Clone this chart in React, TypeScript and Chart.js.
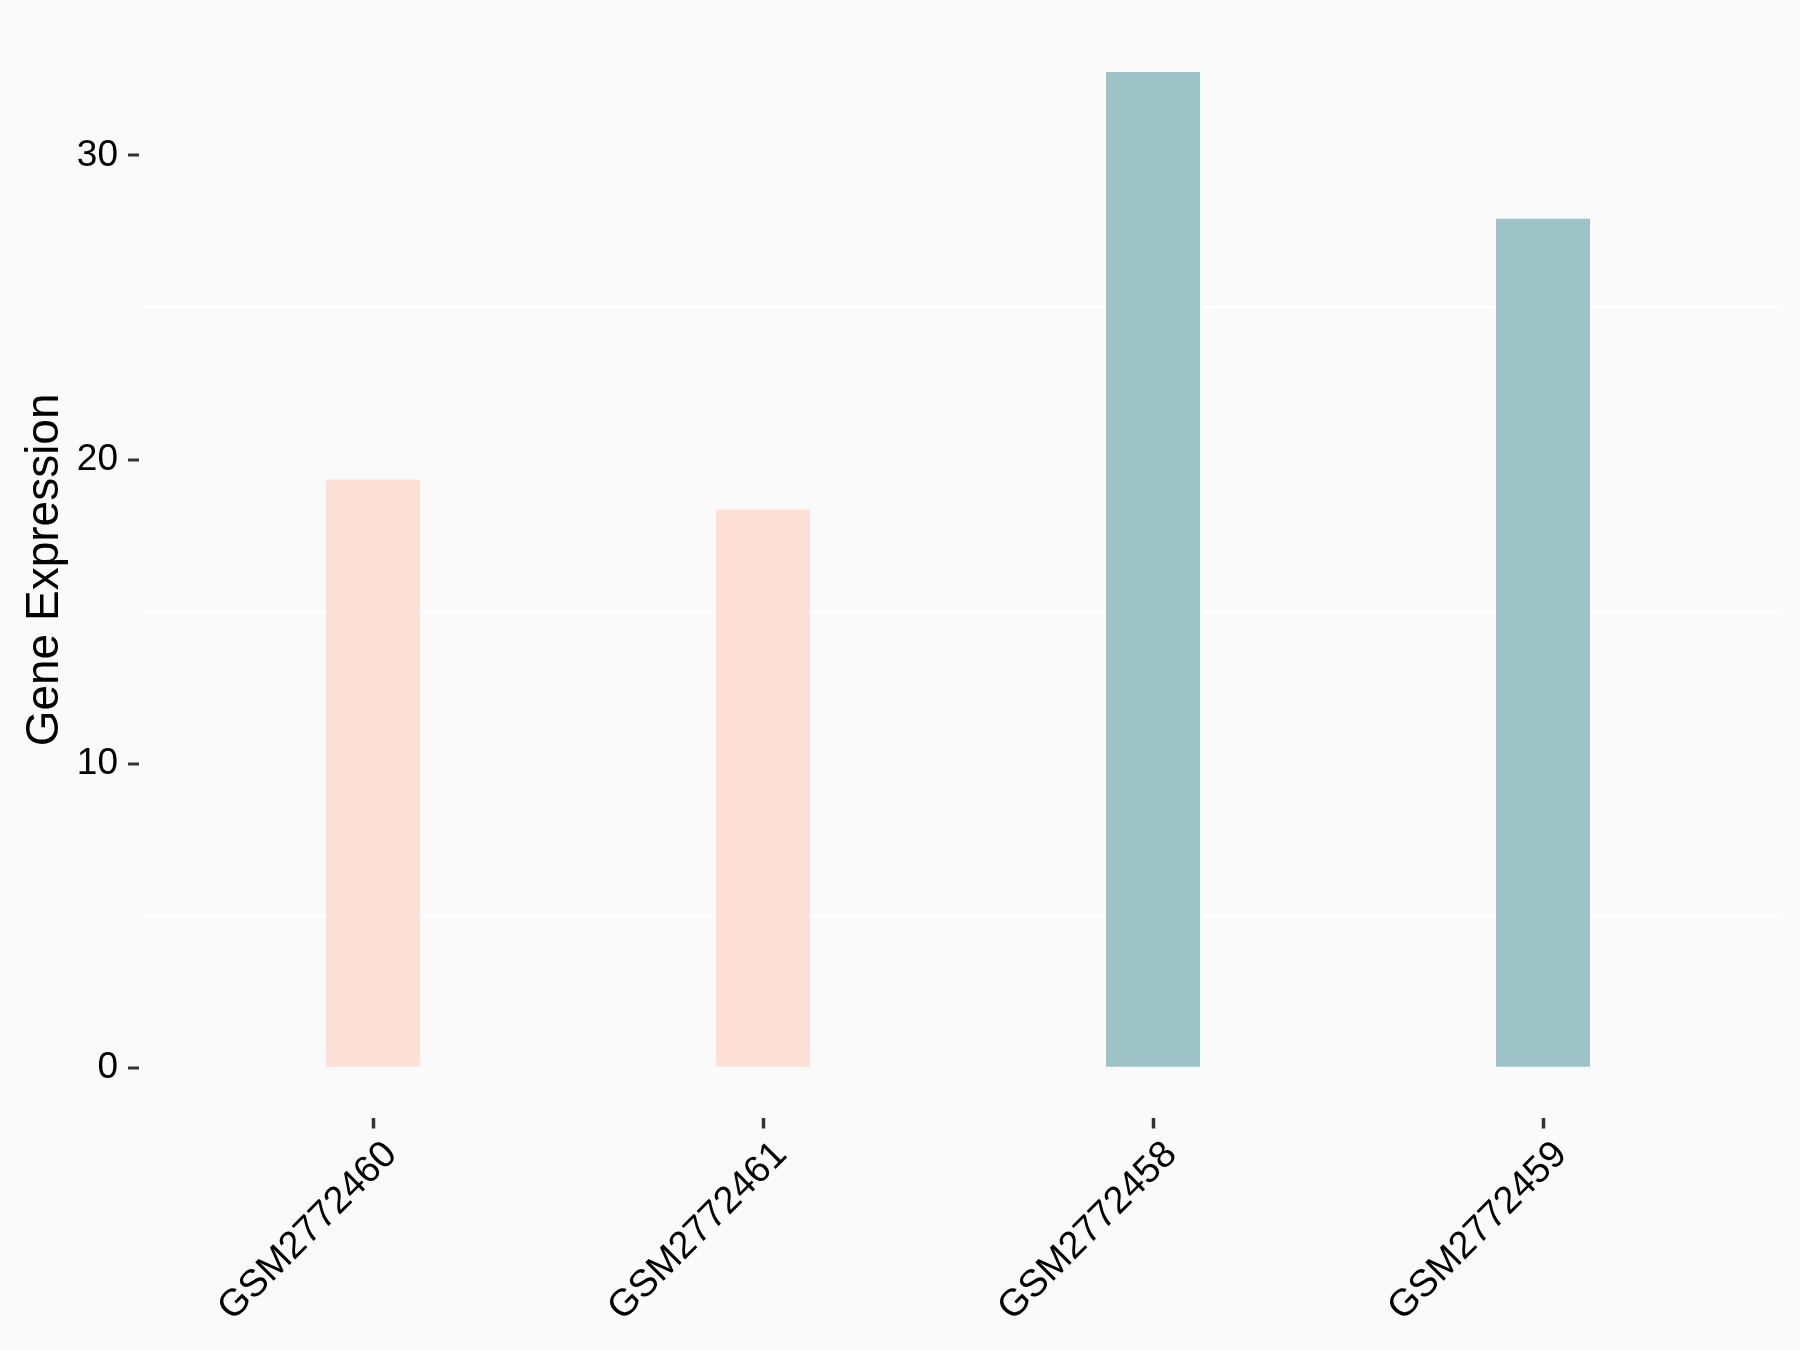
import React, { useEffect, useRef } from "react";
import { Chart, registerables } from "chart.js";

Chart.register(...registerables);

const categories = ["GSM2772460", "GSM2772461", "GSM2772458", "GSM2772459"];
const expressionValues = [19.34, 18.36, 32.74, 27.92];
const barColors = ["#FEE0D6", "#FEE0D6", "#9DC3C7", "#9DC3C7"];
const yMajorTicks = [0, 10, 20, 30];
const yMinorTicks = [5, 15, 25];

const FONT = "'Liberation Sans', Arial, Helvetica, sans-serif";

export default function App() {
  const canvasRef = useRef<HTMLCanvasElement | null>(null);

  useEffect(() => {
    const canvas = canvasRef.current;
    if (!canvas) return;
    const maxVal = Math.max(...expressionValues);
    const yMin = -0.05 * maxVal;
    const yMax = 1.05 * maxVal;
    const n = categories.length;
    const xPositions = categories.map((_, i) => i + 1);
    const allYTicks = [...yMajorTicks, ...yMinorTicks].sort((a, b) => a - b);

    const chart = new Chart(canvas, {
      type: "bar",
      data: {
        datasets: [
          {
            data: xPositions.map((x, i) => ({ x, y: expressionValues[i] })),
            backgroundColor: barColors,
            borderWidth: 0,
            barPercentage: 0.241,
            categoryPercentage: 1,
          },
        ],
      },
      options: {
        responsive: false,
        animation: false,
        events: [],
        layout: { padding: { top: 22.3, right: 23, left: 0, bottom: 0 } },
        plugins: {
          legend: { display: false },
          tooltip: { enabled: false },
        },
        scales: {
          x: {
            type: "linear",
            min: 0.4,
            max: n + 0.6,
            offset: false,
            border: { display: false },
            grid: {
              offset: false,
              drawOnChartArea: false,
              drawTicks: true,
              tickLength: 11,
              tickColor: "#333333",
              tickWidth: 3.5,
            },
            afterBuildTicks: (scale: any) => {
              scale.ticks = xPositions.map((v) => ({ value: v }));
            },
            afterFit: (scale: any) => {
              scale.height = 232.5;
              scale.paddingLeft = 0;
              scale.paddingRight = 0;
            },
            ticks: {
              autoSkip: false,
              minRotation: 45,
              maxRotation: 45,
              padding: 4,
              labelOffset: 18,
              color: "#000000",
              font: { family: FONT, size: 38 },
              callback: (value: any) => {
                const idx = Math.round(Number(value)) - 1;
                return categories[idx] ?? "";
              },
            },
          },
          y: {
            type: "linear",
            min: yMin,
            max: yMax,
            border: { display: false },
            grid: {
              drawOnChartArea: true,
              drawTicks: true,
              tickLength: 11,
              lineWidth: 2,
              color: (ctx: any) =>
                ctx.tick && yMinorTicks.includes(ctx.tick.value) ? "#FFFFFF" : "rgba(0,0,0,0)",
              tickColor: (ctx: any) =>
                ctx.tick && yMajorTicks.includes(ctx.tick.value) ? "#333333" : "rgba(0,0,0,0)",
              tickWidth: 3,
            },
            afterBuildTicks: (scale: any) => {
              scale.ticks = allYTicks.map((v) => ({ value: v }));
            },
            afterFit: (scale: any) => {
              scale.width = 139;
              scale.paddingTop = 0;
              scale.paddingBottom = 0;
            },
            ticks: {
              padding: 10,
              color: "#000000",
              font: { family: FONT, size: 37 },
              callback: (value: any) =>
                yMajorTicks.includes(Number(value)) ? String(value) : "",
            },
            title: {
              display: true,
              text: "Gene Expression",
              color: "#000000",
              font: { family: FONT, size: 46 },
              padding: { top: 18, bottom: 0 },
            },
          },
        },
      },
    });

    return () => {
      chart.destroy();
    };
  }, []);

  return (
    <div
      style={{
        position: "fixed",
        left: 0,
        top: 0,
        width: 1800,
        height: 1350,
        background: "#FAFAFA",
      }}
    >
      <canvas
        ref={canvasRef}
        width={1800}
        height={1350}
        style={{ width: 1800, height: 1350, display: "block", background: "#FAFAFA" }}
      />
    </div>
  );
}
